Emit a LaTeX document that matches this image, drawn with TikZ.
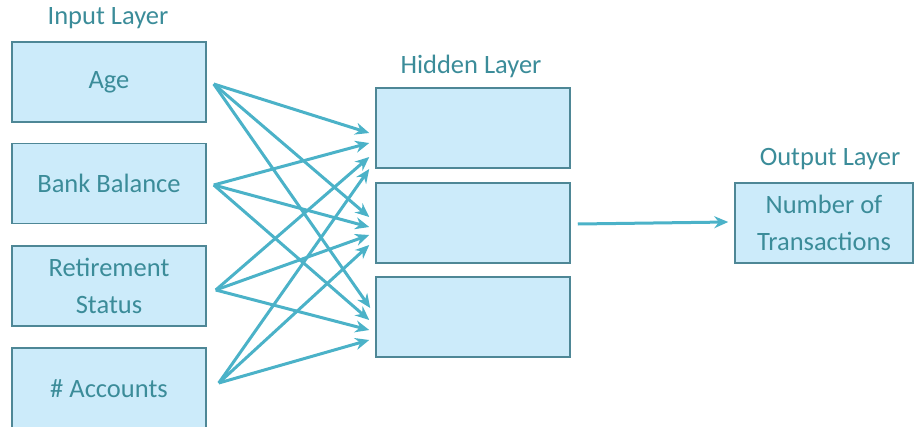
\documentclass[tikz,border=0pt]{standalone}
\usepackage{fontspec}
\setmainfont{Carlito}
\usetikzlibrary{arrows.meta,calc}
\definecolor{boxfill}{HTML}{CCEBFA}
\definecolor{boxline}{HTML}{4E8796}
\definecolor{txt}{HTML}{3B8C99}
\definecolor{arr}{HTML}{4BB2C8}
\begin{document}
\begin{tikzpicture}[x=1pt,y=-1pt,
  box/.style={draw=boxline,line width=1.5pt,fill=boxfill,minimum width=194pt,minimum height=80pt,
    inner sep=0pt,align=center,text=txt,font=\fontsize{26.5}{37}\selectfont},
  lbl/.style={text=txt,font=\fontsize{26.5}{30}\selectfont,inner sep=0pt},
  con/.style={draw=arr,line width=3pt,-{Stealth[length=14pt,width=12pt]}}]
\useasboundingbox (0,0) rectangle (915,426);
% labels
\node[lbl] (inl) at (108,18) {Input Layer};
\node[lbl] (hidl) at (471,66) {Hidden Layer};
\node[lbl] (outl) at (830,159) {Output Layer};
% input boxes
\node[box] (age) at (109,82) {Age};
\node[box] (bank) at (109,183.5) {Bank Balance};
\node[box] (ret) at (109,286) {Retirement\\Status};
\node[box,minimum height=86pt] (acc) at (109,391) {};
\node[lbl] (acct) at (109,389) {\# Accounts};
% hidden boxes
\node[box] (h1) at (473,128) {};
\node[box] (h2) at (473,223) {};
\node[box] (h3) at (473,317) {};
% output box
\node[box,minimum width=178pt] (out) at (824,223) {Number of\\Transactions};
% start points
\coordinate (sa) at ($(age.east)+(7,2)$);
\coordinate (sb) at ($(bank.east)+(7,1.5)$);
\coordinate (sr) at ($(ret.east)+(9,4)$);
\coordinate (sc) at ($(acc.east)+(12,-8)$);
% end points
\coordinate (e1a) at ($(h1.west)+(-6,5)$);
\coordinate (e1b) at ($(h1.west)+(-6,15)$);
\coordinate (e1c) at ($(h1.west)+(-6,29)$);
\coordinate (e1d) at ($(h1.west)+(-6,41)$);
\coordinate (e2a) at ($(h2.west)+(-6,-6)$);
\coordinate (e2b) at ($(h2.west)+(-6,4)$);
\coordinate (e2c) at ($(h2.west)+(-6,12)$);
\coordinate (e2d) at ($(h2.west)+(-6,22)$);
\coordinate (e3a) at ($(h3.west)+(-5,-9)$);
\coordinate (e3b) at ($(h3.west)+(-6,3)$);
\coordinate (e3c) at ($(h3.west)+(-6,13)$);
\coordinate (e3d) at ($(h3.west)+(-6,23)$);
% connectors
\draw[con] (sa) -- (e1a);
\draw[con] (sa) -- (e2a);
\draw[con] (sa) -- (e3a);
\draw[con] (sb) -- (e1b);
\draw[con] (sb) -- (e2b);
\draw[con] (sb) -- (e3b);
\draw[con] (sr) -- (e1c);
\draw[con] (sr) -- (e2c);
\draw[con] (sr) -- (e3c);
\draw[con] (sc) -- (e1d);
\draw[con] (sc) -- (e2d);
\draw[con] (sc) -- (e3d);
\coordinate (so) at ($(h2.east)+(7,1)$);
\coordinate (eo) at ($(out.west)+(-6,-1)$);
\draw[con] (so) -- (eo);
\end{tikzpicture}
\end{document}
